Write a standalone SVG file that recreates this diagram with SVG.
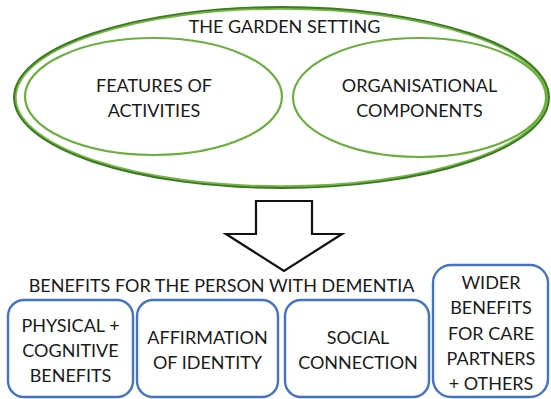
<svg xmlns="http://www.w3.org/2000/svg" width="551" height="399" viewBox="0 0 551 399">
<style>
text{font-family:Lato,"Open Sans","Liberation Sans",sans-serif;font-size:18px;fill:#1a1a1a;text-anchor:middle}
.outer-dark{fill:none;stroke:#3b7a22;stroke-width:1.9}
.outer-light{fill:none;stroke:#74b646;stroke-width:2.4}
.inner{fill:none;stroke:#6aaf3e;stroke-width:2.2}
.box{fill:#fff;stroke:#4472c4;stroke-width:2.4}
.arrow{fill:#fff;stroke:#111;stroke-width:2.2;stroke-linejoin:miter}
</style>
<rect width="551" height="399" fill="#fff"/>
<g id="garden-setting">
<ellipse class="outer-light" cx="281.5" cy="97.5" rx="266" ry="89"/>
<ellipse class="outer-dark" cx="281.5" cy="97.5" rx="267.5" ry="90.5"/>
<text x="284.5" y="33">THE GARDEN SETTING</text>
</g>
<g id="features-of-activities">
<ellipse class="inner" cx="153.5" cy="96.5" rx="128.5" ry="58.5"/>
<text x="154" y="92">FEATURES OF</text>
<text x="154" y="117">ACTIVITIES</text>
</g>
<g id="organisational-components">
<ellipse class="inner" cx="419.5" cy="97.5" rx="126.5" ry="59.5"/>
<text x="419.5" y="92">ORGANISATIONAL</text>
<text x="419.5" y="117">COMPONENTS</text>
</g>
<g id="connectors">
<path class="arrow" d="M256 201 H312 V234 H342 L284 271 L226 234 H256 Z"/>
</g>
<g id="benefits-heading">
<text x="221.5" y="292">BENEFITS FOR THE PERSON WITH DEMENTIA</text>
</g>
<g id="physical-cognitive">
<rect class="box" x="8" y="300" width="125" height="97" rx="16"/>
<text x="70.5" y="332">PHYSICAL +</text>
<text x="70.5" y="357">COGNITIVE</text>
<text x="70.5" y="382">BENEFITS</text>
</g>
<g id="affirmation-identity">
<rect class="box" x="137" y="300" width="141" height="97" rx="16"/>
<text x="207.5" y="344">AFFIRMATION</text>
<text x="207.5" y="369">OF IDENTITY</text>
</g>
<g id="social-connection">
<rect class="box" x="285" y="300" width="144" height="97" rx="16"/>
<text x="358" y="344">SOCIAL</text>
<text x="358" y="369">CONNECTION</text>
</g>
<g id="wider-benefits">
<rect class="box" x="433" y="265" width="115" height="132" rx="18"/>
<text x="491" y="289">WIDER</text>
<text x="491" y="314">BENEFITS</text>
<text x="491" y="340">FOR CARE</text>
<text x="491" y="365">PARTNERS</text>
<text x="491" y="390">+ OTHERS</text>
</g>
</svg>
